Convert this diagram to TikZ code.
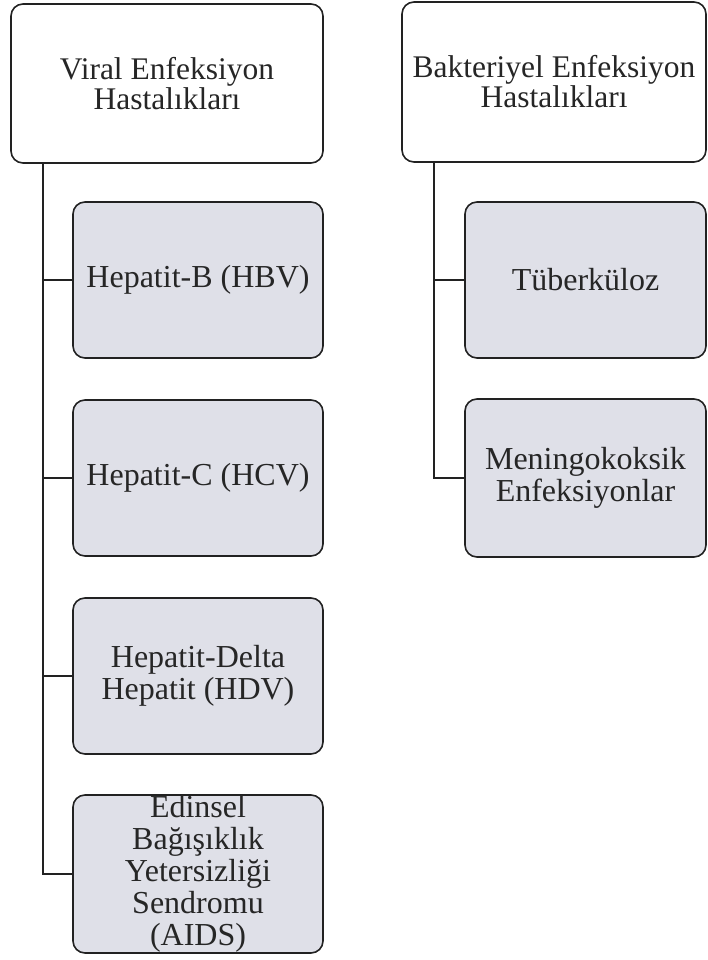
\documentclass[tikz,border=0pt]{standalone}
\usepackage{fontspec}
\setmainfont{Liberation Serif}
\usepackage{tikz}
\definecolor{boxgray}{HTML}{DFE0E8}
\definecolor{inkline}{HTML}{222222}
\tikzstyle{head box}=[fill=white, draw=inkline, line width=1.6pt, shape=rectangle, rounded corners=12pt, align=center, inner sep=0pt, font=\fontsize{31.5}{30}\selectfont, text=black!85]
\tikzstyle{sub box}=[head box, fill=boxgray, font=\fontsize{32}{32}\selectfont]
\tikzstyle{branch}=[draw=inkline, line width=1.6pt]

\begin{document}
\begin{tikzpicture}[x=1pt, y=-1pt]
	\useasboundingbox (0,0) rectangle (707,960);
	% top level
	\node [head box, minimum width=312pt, minimum height=159pt] (viral) at (167, 83.5) {Viral Enfeksiyon\\Hastalıkları};
	\node [head box, minimum width=304pt, minimum height=160pt] (bakteri) at (554, 82) {Bakteriyel Enfeksiyon\\Hastalıkları};
	% viral
	\node [sub box, minimum width=250pt, minimum height=156pt] (hbv) at (198, 280) {Hepatit-B (HBV)};
	\node [sub box, minimum width=250pt, minimum height=156pt] (hcv) at (198, 478) {Hepatit-C (HCV)};
	\node [sub box, minimum width=250pt, minimum height=156pt] (hdv) at (198, 676) {Hepatit-Delta\\Hepatit (HDV)};
	\node [sub box, minimum width=250pt, minimum height=158pt] (aids) at (198, 874) {Edinsel\\Bağışıklık\\Yetersizliği\\Sendromu\\(AIDS)};
	% bakteriyel
	\node [sub box, minimum width=241pt, minimum height=156pt] (tuber) at (585.5, 280) {Tüberküloz};
	\node [sub box, minimum width=241pt, minimum height=158pt] (menin) at (585.5, 478) {Meningokoksik\\Enfeksiyonlar};
	% trunks
	\coordinate (vtrunk) at (43, 163);
	\coordinate (btrunk) at (434, 162);
	\draw [style=branch] (vtrunk) |- (aids.west);
	\draw [style=branch] (vtrunk) |- (hbv.west);
	\draw [style=branch] (vtrunk) |- (hcv.west);
	\draw [style=branch] (vtrunk) |- (hdv.west);
	\draw [style=branch] (btrunk) |- (menin.west);
	\draw [style=branch] (btrunk) |- (tuber.west);
\end{tikzpicture}
\end{document}
